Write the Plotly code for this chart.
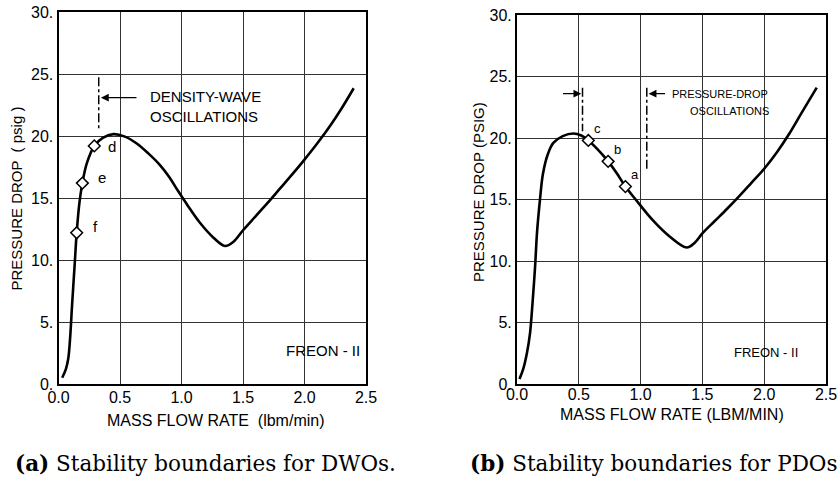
import plotly.graph_objects as go

# ---------------- data ----------------
# (a) DWO panel curve
a_flow = [0.03, 0.06, 0.08, 0.095, 0.11, 0.13, 0.148, 0.17, 0.194, 0.23, 0.291, 0.36, 0.446,
          0.54, 0.636, 0.73, 0.825, 0.90, 0.97, 1.05, 1.15, 1.26, 1.354, 1.42, 1.5, 1.6,
          1.7, 1.8, 1.9, 2.0, 2.1, 2.2, 2.3, 2.4]
a_dp = [0.5, 1.2, 2.1, 3.8, 6.3, 9.4, 12.2, 14.6, 16.2, 17.8, 19.2, 19.85, 20.15,
        19.95, 19.4, 18.6, 17.66, 16.7, 15.6, 14.4, 13.0, 11.8, 11.13, 11.45, 12.4, 13.5,
        14.6, 15.75, 16.9, 18.1, 19.35, 20.7, 22.2, 23.85]
a_pts_x = [0.148, 0.194, 0.291]
a_pts_y = [12.2, 16.2, 19.2]
a_pts_lbl = ["f", "e", "d"]

# (b) PDO panel curve
b_flow = [0.02, 0.05, 0.08, 0.105, 0.125, 0.146, 0.162, 0.186, 0.21, 0.25, 0.294, 0.37, 0.456,
          0.52, 0.577, 0.66, 0.737, 0.81, 0.877, 0.96, 1.1, 1.24, 1.373, 1.44, 1.5,
          1.6, 1.7, 1.8, 1.9, 2.0, 2.1, 2.2, 2.3, 2.425]
b_dp = [0.4, 1.2, 2.5, 4.1, 6.5, 9.5, 12.3, 15.0, 17.1, 18.7, 19.6, 20.15, 20.36,
        20.2, 19.8, 19.0, 18.1, 17.1, 16.05, 15.0, 13.3, 11.95, 11.1, 11.5, 12.25,
        13.25, 14.25, 15.3, 16.4, 17.5, 18.8, 20.3, 22.0, 24.1]
b_pts_x = [0.577, 0.737, 0.877]
b_pts_y = [19.8, 18.1, 16.05]
b_pts_lbl = ["c", "b", "a"]

x_ticks = [0.0, 0.5, 1.0, 1.5, 2.0, 2.5]
x_ticktext = ["0.0", "0.5", "1.0", "1.5", "2.0", "2.5"]
y_ticks = [0, 5, 10, 15, 20, 25, 30]
y_ticktext = ["0.", "5.", "10.", "15.", "20.", "25.", "30."]

W, H = 837, 478
def px(x):
    return x / W
def py(y):
    return (H - y) / H

SANS = "Liberation Sans, Arial, sans-serif"
SERIF = "DejaVu Serif, serif"

fig = go.Figure()

line_style = dict(color="black", width=2.6, shape="spline", smoothing=1.0)
mk = dict(symbol="diamond", size=9, color="white", line=dict(color="black", width=1.5))

fig.add_trace(go.Scatter(x=a_flow, y=a_dp, mode="lines", line=line_style, xaxis="x", yaxis="y", hoverinfo="skip"))
fig.add_trace(go.Scatter(x=a_pts_x, y=a_pts_y, mode="markers", marker=mk, xaxis="x", yaxis="y"))
fig.add_trace(go.Scatter(x=b_flow, y=b_dp, mode="lines", line=line_style, xaxis="x2", yaxis="y2", hoverinfo="skip"))
fig.add_trace(go.Scatter(x=b_pts_x, y=b_pts_y, mode="markers", marker=mk, xaxis="x2", yaxis="y2"))

# dash-dot boundary lines
dd = dict(color="black", width=1.5, dash="dashdot")
fig.add_trace(go.Scatter(x=[0.327, 0.327], y=[24.73, 20.48], mode="lines", line=dd, xaxis="x", yaxis="y"))
fig.add_trace(go.Scatter(x=[0.53, 0.53], y=[24.08, 20.55], mode="lines", line=dd, xaxis="x2", yaxis="y2"))
fig.add_trace(go.Scatter(x=[1.05, 1.05], y=[24.08, 17.48], mode="lines", line=dd, xaxis="x2", yaxis="y2"))

def xax(dom, anchor, standoff):
    return dict(domain=dom, anchor=anchor, range=[0, 2.5], tickmode="array", tickvals=x_ticks,
                ticktext=x_ticktext, showgrid=True, gridcolor="#333333", gridwidth=1, griddash="solid",
                showline=True, linecolor="black", linewidth=2, mirror=True, ticks="", zeroline=False,
                automargin=False, ticklabeloverflow="allow", ticklabelstandoff=standoff,
                tickfont=dict(family=SANS, size=16, color="black"))

def yax(dom, anchor):
    return dict(domain=dom, anchor=anchor, range=[0, 30], tickmode="array", tickvals=y_ticks,
                ticktext=y_ticktext, showgrid=True, gridcolor="#333333", gridwidth=1, griddash="solid",
                showline=True, linecolor="black", linewidth=2, mirror=True, ticks="", zeroline=False,
                automargin=False, ticklabeloverflow="allow",
                tickfont=dict(family=SANS, size=16, color="black"))

fig.update_layout(
    template="none",
    width=W, height=H, margin=dict(l=0, r=0, t=0, b=0, pad=0, autoexpand=False),
    paper_bgcolor="white", plot_bgcolor="white", showlegend=False,
    xaxis=xax([px(58.5), px(366)], "y", -2),
    yaxis=yax([py(384), py(12)], "x"),
    xaxis2=xax([px(517), px(826)], "y2", -5),
    yaxis2=yax([py(384), py(15)], "x2"),
)

def pann(text, x, y, size, family=SANS, angle=0, xanchor="center", **kw):
    return dict(text=text, x=px(x), y=py(y), xref="paper", yref="paper", textangle=angle,
                xanchor=xanchor, yanchor="middle", showarrow=False,
                font=dict(family=family, size=size, color="black"), **kw)

ann = []
# axis titles
ann.append(pann("PRESSURE DROP  ( psig )", 15.5, 199, 15, angle=-90))
ann.append(pann("PRESSURE DROP (PSIG)", 478, 192, 15, angle=-90))
ann.append(pann("MASS FLOW RATE  (lbm/min)", 216, 421, 16))
ann.append(pann("MASS FLOW RATE (LBM/MIN)", 671.5, 414, 16))
# captions
ann.append(pann("<b>(a)</b> Stability boundaries for DWOs.", 13, 463, 21.5, family=SERIF, xanchor="left"))
ann.append(pann("<b>(b)</b> Stability boundaries for PDOs.", 468, 463, 21.5, family=SERIF, xanchor="left"))

# panel (a) annotations
ann.append(dict(x=0.345, y=23.09, ax=0.646, ay=23.09, xref="x", yref="y", axref="x", ayref="y",
                text="", showarrow=True, arrowhead=2, arrowsize=1.2, arrowwidth=1.3, arrowcolor="black"))
ann.append(dict(text="DENSITY-WAVE<br>OSCILLATIONS", x=0.73, y=22.4, xref="x", yref="y", xanchor="left",
                yanchor="middle", align="left", showarrow=False, font=dict(family=SANS, size=15, color="black")))
ann.append(dict(text="FREON - II", x=1.83, y=2.7, xref="x", yref="y", xanchor="left", yanchor="middle",
                showarrow=False, font=dict(family=SANS, size=15, color="black")))
for lx, ly, t in zip(a_pts_x, a_pts_y, a_pts_lbl):
    ann.append(dict(text=t, x=lx, y=ly, xref="x", yref="y", xshift=14 if t != "d" else 12,
                    yshift=6 if t != "d" else -1, xanchor="left", yanchor="middle",
                    showarrow=False, font=dict(family=SANS, size=15, color="black")))

# panel (b) annotations
ann.append(dict(x=0.52, y=23.6, ax=0.36, ay=23.6, xref="x2", yref="y2", axref="x2", ayref="y2",
                text="", showarrow=True, arrowhead=2, arrowsize=1.2, arrowwidth=1.3, arrowcolor="black"))
ann.append(dict(x=1.065, y=23.6, ax=1.21, ay=23.6, xref="x2", yref="y2", axref="x2", ayref="y2",
                text="", showarrow=True, arrowhead=2, arrowsize=1.2, arrowwidth=1.3, arrowcolor="black"))
ann.append(dict(text="PRESSURE-DROP", x=1.24, y=23.55, xref="x2", yref="y2", xanchor="left", yanchor="middle",
                showarrow=False, font=dict(family=SANS, size=11, color="black")))
ann.append(dict(text="OSCILLATIONS", x=1.38, y=22.2, xref="x2", yref="y2", xanchor="left", yanchor="middle",
                showarrow=False, font=dict(family=SANS, size=11, color="black")))
ann.append(dict(text="FREON - II", x=1.74, y=2.6, xref="x2", yref="y2", xanchor="left", yanchor="middle",
                showarrow=False, font=dict(family=SANS, size=13, color="black")))
for lx, ly, t in zip(b_pts_x, b_pts_y, b_pts_lbl):
    ann.append(dict(text=t, x=lx, y=ly, xref="x2", yref="y2", xshift=4, yshift=12, xanchor="left",
                    yanchor="middle", showarrow=False, font=dict(family=SANS, size=13, color="black")))

fig.update_layout(annotations=ann)
fig.write_html("out.html")
